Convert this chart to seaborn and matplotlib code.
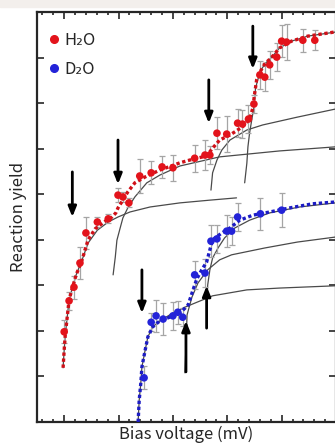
import matplotlib
matplotlib.use("Agg")
import matplotlib.pyplot as plt
from matplotlib.lines import Line2D
from matplotlib.patches import Rectangle
from matplotlib.ticker import MultipleLocator
import seaborn as sns

# data (x: bias voltage, arbitrary units; y: reaction yield)
h2o_x = [1.00, 1.09, 1.18, 1.29, 1.40, 1.61, 1.81, 1.99, 2.08, 2.19, 2.39, 2.60, 2.80, 3.00,
         3.40, 3.59, 3.68, 3.81, 3.99, 4.19, 4.28, 4.39, 4.49, 4.60, 4.69, 4.78, 4.91, 5.00,
         5.09, 5.39, 5.61]
h2o_y = [1.98, 2.66, 2.96, 3.49, 4.15, 4.39, 4.46, 4.98, 4.94, 4.81, 5.40, 5.47, 5.60, 5.58,
         5.79, 5.86, 5.86, 6.34, 6.32, 6.56, 6.54, 6.65, 6.98, 7.62, 7.57, 7.84, 8.01, 8.36,
         8.34, 8.38, 8.38]
h2o_err = [0.25, 0.20, 0.25, 0.35, 0.35, 0.12, 0.10, 0.15, 0.10, 0.10, 0.38, 0.25, 0.25, 0.28,
           0.30, 0.32, 0.20, 0.35, 0.40, 0.30, 0.30, 0.30, 0.20, 0.30, 0.30, 0.30, 0.30, 0.35,
           0.40, 0.25, 0.22]

d2o_x = [2.47, 2.60, 2.69, 2.82, 3.00, 3.09, 3.18, 3.40, 3.59, 3.70, 3.81, 3.99, 4.08, 4.19,
         4.61, 5.00]
d2o_y = [0.97, 2.19, 2.33, 2.26, 2.33, 2.41, 2.30, 3.23, 3.27, 3.97, 4.02, 4.19, 4.19, 4.50,
         4.57, 4.65]
d2o_err = [0.25, 0.20, 0.35, 0.35, 0.30, 0.25, 0.20, 0.30, 0.30, 0.35, 0.30, 0.35, 0.30, 0.30,
           0.35, 0.38]

# total fits (dotted)
h2o_fit_x = [0.98, 1.00, 1.02, 1.06, 1.09, 1.15, 1.22, 1.33, 1.44, 1.57, 1.73, 1.88, 1.95, 1.99,
             2.08, 2.17, 2.30, 2.49, 2.76, 3.13, 3.37, 3.62, 3.73, 3.86, 4.05, 4.28, 4.41, 4.47,
             4.50, 4.54, 4.60, 4.69, 4.82, 4.96, 5.18, 5.48, 5.97]
h2o_fit_y = [1.19, 1.58, 1.91, 2.35, 2.68, 2.94, 3.23, 3.56, 4.00, 4.24, 4.39, 4.50, 4.59, 4.70,
             4.87, 5.05, 5.25, 5.38, 5.53, 5.69, 5.77, 5.84, 6.01, 6.19, 6.30, 6.48, 6.65, 6.89,
             7.18, 7.51, 7.68, 7.86, 8.01, 8.21, 8.36, 8.47, 8.56]
d2o_fit_x = [2.36, 2.38, 2.41, 2.43, 2.49, 2.54, 2.63, 2.76, 2.94, 3.13, 3.28, 3.37, 3.44, 3.53,
             3.62, 3.68, 3.73, 3.90, 4.05, 4.23, 4.47, 4.78, 5.15, 5.57, 5.99]
d2o_fit_y = [0.00, 0.48, 0.86, 1.21, 1.58, 1.87, 2.09, 2.22, 2.30, 2.39, 2.57, 2.90, 3.14, 3.34,
             3.51, 3.78, 4.00, 4.15, 4.26, 4.43, 4.54, 4.61, 4.70, 4.79, 4.83]

# single-channel components (thin grey)
h2o_c1_x = [0.98, 1.00, 1.02, 1.06, 1.09, 1.15, 1.22, 1.33, 1.44, 1.61, 1.81, 1.99, 2.21, 2.58,
            3.13, 3.68, 4.17]
h2o_c1_y = [1.19, 1.58, 1.91, 2.35, 2.68, 2.94, 3.23, 3.56, 3.93, 4.21, 4.39, 4.50, 4.61, 4.72,
            4.81, 4.87, 4.92]
h2o_c2_x = [1.90, 1.94, 1.97, 2.03, 2.08, 2.17, 2.30, 2.52, 2.76, 3.13, 3.86, 4.96, 5.99]
h2o_c2_y = [3.23, 3.62, 3.99, 4.26, 4.48, 4.70, 4.94, 5.25, 5.42, 5.62, 5.82, 5.95, 6.04]
h2o_c3_x = [3.70, 3.73, 3.81, 3.90, 4.05, 4.36, 4.65, 5.28, 5.99]
h2o_c3_y = [5.09, 5.47, 5.75, 5.97, 6.19, 6.41, 6.52, 6.69, 6.87]
h2o_c4_x = [4.32, 4.36, 4.38, 4.41, 4.45, 4.49, 4.52, 4.60, 4.69, 4.82, 4.96, 5.18, 5.48, 5.99]
h2o_c4_y = [5.25, 5.68, 6.04, 6.34, 6.63, 6.91, 7.33, 7.68, 7.86, 8.01, 8.21, 8.36, 8.47, 8.56]

d2o_c1_x = [2.36, 2.38, 2.41, 2.43, 2.49, 2.54, 2.63, 2.76, 2.94, 3.22, 3.73, 4.36, 4.96, 5.99]
d2o_c1_y = [0.00, 0.48, 0.86, 1.21, 1.58, 1.87, 2.09, 2.22, 2.35, 2.52, 2.77, 2.90, 2.94, 2.99]
d2o_c2_x = [3.22, 3.24, 3.26, 3.35, 3.46, 3.64, 3.86, 4.08, 4.69, 5.29, 5.99]
d2o_c2_y = [1.08, 1.65, 2.35, 2.74, 3.05, 3.34, 3.56, 3.67, 3.82, 3.95, 4.06]
d2o_c3_x = [3.62, 3.64, 3.68, 3.73, 3.83, 3.95, 4.14, 4.41, 4.78, 5.33, 5.99]
d2o_c3_y = [2.57, 3.01, 3.34, 3.60, 3.82, 4.04, 4.26, 4.43, 4.59, 4.72, 4.81]

# threshold arrows: (x, tail y, head y)
arrows = [
    (1.15, 5.49, 4.50),
    (1.99, 6.19, 5.22),
    (3.66, 7.51, 6.56),
    (4.47, 8.69, 7.75),
    (2.43, 3.34, 2.39),
    (3.24, 1.10, 2.22),
    (3.62, 2.06, 2.99),
]

red = "#e3131b"
blue = "#2323d8"
grey = "#4a4a4a"

sns.set_style("ticks")
plt.rcParams["font.family"] = ["Noto Sans CJK JP", "DejaVu Sans"]

fig = plt.figure(figsize=(3.35, 4.43), dpi=100)
fig.patches.append(Rectangle((0, 1 - 7 / 443), 1, 7 / 443, transform=fig.transFigure,
                             color="#f3efec", zorder=0))
ax = fig.add_axes([37 / 335, 21 / 443, 299 / 335, 410 / 443])

for cx, cy in [(h2o_c1_x, h2o_c1_y), (h2o_c2_x, h2o_c2_y), (h2o_c3_x, h2o_c3_y),
               (h2o_c4_x, h2o_c4_y), (d2o_c1_x, d2o_c1_y), (d2o_c2_x, d2o_c2_y),
               (d2o_c3_x, d2o_c3_y)]:
    sns.lineplot(x=cx, y=cy, sort=False, estimator=None, color=grey, lw=0.9, ax=ax, zorder=2)

ax.errorbar(h2o_x, h2o_y, yerr=h2o_err, fmt="none", ecolor="#a5a5a5", elinewidth=0.9,
            capsize=2.5, capthick=0.9, zorder=3)
ax.errorbar(d2o_x, d2o_y, yerr=d2o_err, fmt="none", ecolor="#a5a5a5", elinewidth=0.9,
            capsize=2.5, capthick=0.9, zorder=3)

sns.lineplot(x=h2o_fit_x, y=h2o_fit_y, sort=False, estimator=None, color="#d01018", lw=2.4,
             linestyle=(0, (1, 0.8)), ax=ax, zorder=4)
sns.lineplot(x=d2o_fit_x, y=d2o_fit_y, sort=False, estimator=None, color="#1c1cc4", lw=2.4,
             linestyle=(0, (1, 0.8)), ax=ax, zorder=4)

sns.scatterplot(x=h2o_x, y=h2o_y, color=red, s=30, edgecolor="none", ax=ax, zorder=5)
sns.scatterplot(x=d2o_x, y=d2o_y, color=blue, s=30, edgecolor="none", ax=ax, zorder=5)

for ax_x, y0, y1 in arrows:
    ax.annotate("", xy=(ax_x, y1), xytext=(ax_x, y0),
                arrowprops=dict(arrowstyle="-|>,head_length=0.55,head_width=0.22",
                                color="black", lw=2, shrinkA=0, shrinkB=0,
                                mutation_scale=11), zorder=6)

ax.set_xlim(0.5, 6.0)
ax.set_ylim(0, 9)
ax.xaxis.set_major_locator(MultipleLocator(1))
ax.xaxis.set_minor_locator(MultipleLocator(0.2))
ax.yaxis.set_major_locator(MultipleLocator(1))
ax.tick_params(which="both", direction="in", top=True, right=True,
               labelleft=False, labelbottom=False, width=1.2)
ax.tick_params(which="major", length=5)
ax.tick_params(which="minor", length=2.5)
for sp in ax.spines.values():
    sp.set_linewidth(1.6)

ax.set_xlabel("Bias voltage (mV)", fontsize=12, labelpad=2.5)
ax.set_ylabel("Reaction yield", fontsize=12, labelpad=7)

handles = [
    Line2D([], [], marker="o", linestyle="none", color=red, markersize=5.5, label="H₂O"),
    Line2D([], [], marker="o", linestyle="none", color=blue, markersize=5.5, label="D₂O"),
]
ax.legend(handles=handles, loc="upper left", bbox_to_anchor=(0.0, 0.98), frameon=False,
          fontsize=12, handlelength=0.6, handletextpad=0.35, labelspacing=0.72,
          borderaxespad=0.3)

fig.savefig("out.png", dpi=100)
